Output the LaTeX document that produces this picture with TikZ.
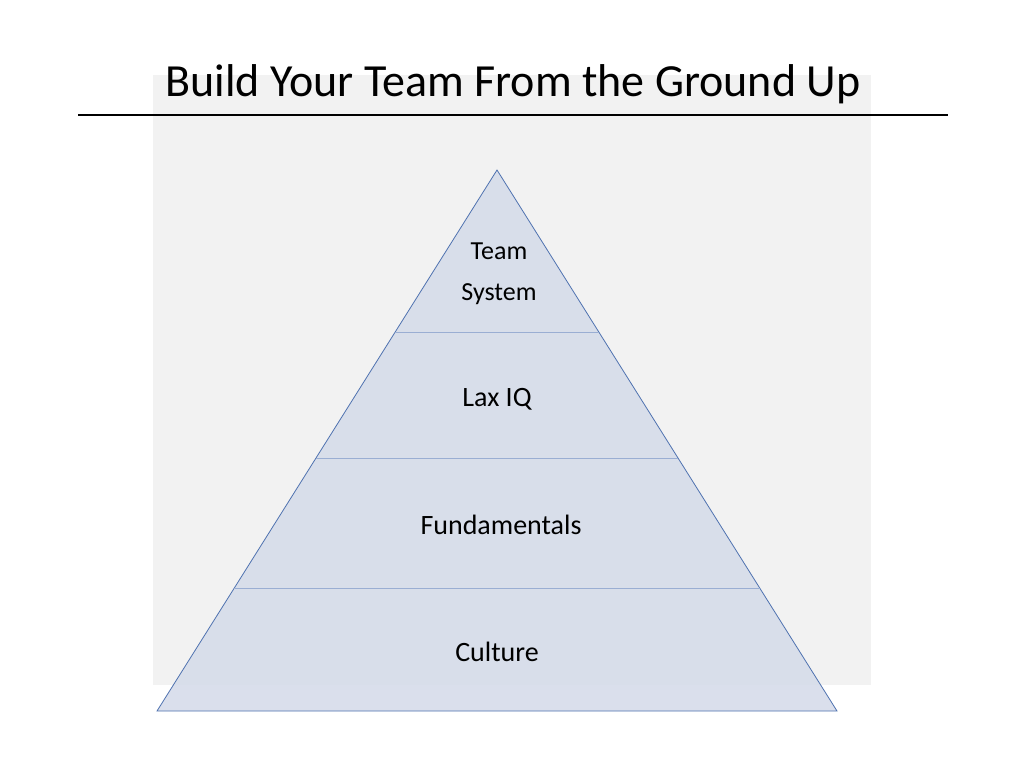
\documentclass[tikz,border=0pt]{standalone}
\usepackage{fontspec}
\setmainfont{Carlito}
\definecolor{bg}{HTML}{F2F2F2}
\definecolor{tri}{HTML}{D6DCEA}
\definecolor{edge}{HTML}{4F72B0}
\definecolor{sep}{HTML}{9AAED3}
\begin{document}
\begin{tikzpicture}[x=1pt,y=-1pt,
  lbl/.style={font=\fontsize{28}{34}\selectfont,align=center,inner sep=0}]
\useasboundingbox (0,0) rectangle (1024,768);
\fill[white] (0,0) rectangle (1024,768);
\fill[bg] (153,75) rectangle (871,685);
\node[font=\fontsize{46}{52}\selectfont,inner sep=0] (title) at (513,84) {Build Your Team From the Ground Up};
\draw[line width=1.6pt] (78,115) -- (948,115);
\coordinate (apex) at (497,170);
\coordinate (bl) at (157,711);
\coordinate (br) at (837,711);
\fill[tri,opacity=0.9] (apex) -- (bl) -- (br) -- cycle;
\draw[edge,line width=0.8pt] (apex) -- (bl) -- (br) -- cycle;
\draw[sep,line width=0.6pt] (395,332) -- (599,332);
\draw[sep,line width=0.6pt] (316,458) -- (678,458);
\draw[sep,line width=0.6pt] (234,588) -- (760,588);
\node[lbl,font=\fontsize{26}{41}\selectfont] (ts) at (499,274) {Team\\System};
\node[lbl] (iq) at (497,399) {Lax IQ};
\node[lbl] (fu) at (501,525) {Fundamentals};
\node[lbl] (cu) at (497,652) {Culture};
\end{tikzpicture}
\end{document}
